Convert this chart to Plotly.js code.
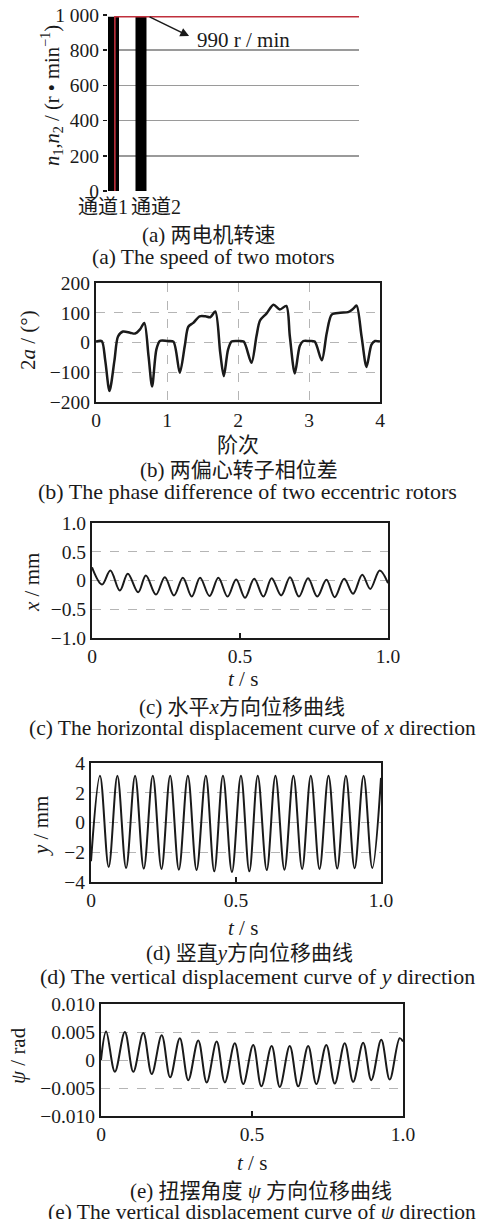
<!DOCTYPE html>
<html>
<head>
<meta charset="utf-8">
<script src="https://cdn.plot.ly/plotly-3.0.1.min.js"></script>
<style>html,body{margin:0;padding:0;background:#fff;}#chart{width:488px;height:1219px;}</style>
</head>
<body>
<div id="chart"></div>
<script>
// ---------- (a) motor speeds ----------
const channels = ['通道1', '通道2'];
const channelSpeed = [990, 990];
const speedTraceX = [0.05, 0.05, 9.2];
const speedTraceN = [0, 990, 990];
const speedTicks = [0, 200, 400, 600, 800, 1000];
const speedTickText = ['0', '200', '400', '600', '800', '1 000'];

// ---------- (b) phase difference ----------
const phaseOrder = [0, 0.08, 0.13, 0.19, 0.26, 0.31, 0.38, 0.48, 0.55, 0.62, 0.68, 0.74, 0.79, 0.85, 0.90, 1.0, 1.09, 1.18, 1.25, 1.30, 1.37, 1.46, 1.54, 1.61, 1.68, 1.75, 1.80, 1.86, 1.91, 2.0, 2.08, 2.19, 2.26, 2.31, 2.40, 2.50, 2.59, 2.68, 2.73, 2.80, 2.87, 2.92, 3.0, 3.08, 3.18, 3.25, 3.32, 3.44, 3.55, 3.62, 3.67, 3.74, 3.81, 3.88, 3.93, 4.0];
const phaseDiff = [3, 5, -60, -163, -60, 20, 37, 33, 30, 44, 66, -46, -148, -24, 5, 5, 3, -102, -12, 53, 66, 88, 88, 85, 104, -35, -113, -24, 3, 5, 3, -68, 21, 74, 97, 127, 111, 123, 21, -104, -12, 5, 5, 3, -60, 32, 94, 100, 102, 113, 124, 21, -82, -7, 5, 3];
const phaseXTicks = [0, 1, 2, 3, 4];
const phaseYTicks = [-200, -100, 0, 100, 200];
const phaseYText = ['−200', '−100', '0', '100', '200'];

// ---------- (c) horizontal displacement x ----------
const tX = [0, 0.034, 0.062, 0.094, 0.121, 0.156, 0.182, 0.216, 0.246, 0.277, 0.307, 0.337, 0.365, 0.397, 0.427, 0.458, 0.487, 0.517, 0.548, 0.579, 0.607, 0.639, 0.669, 0.699, 0.730, 0.761, 0.792, 0.820, 0.852, 0.882, 0.913, 0.940, 0.972, 1.0];
const dispX = [0.23, -0.07, 0.175, -0.175, 0.117, -0.205, 0.088, -0.245, 0.058, -0.26, 0.05, -0.28, 0.05, -0.27, 0.047, -0.28, 0.018, -0.3, 0.03, -0.28, 0.04, -0.26, 0.058, -0.28, 0.04, -0.28, 0.012, -0.29, 0.03, -0.23, 0.1, -0.146, 0.175, -0.047];
const xYTicks = [-1, -0.5, 0, 0.5, 1];
const xYText = ['−1.0', '−0.5', '0', '0.5', '1.0'];

// ---------- (d) vertical displacement y ----------
const tY = [0, 0.031, 0.061, 0.091, 0.121, 0.152, 0.182, 0.213, 0.243, 0.273, 0.303, 0.334, 0.364, 0.396, 0.425, 0.455, 0.486, 0.517, 0.546, 0.575, 0.606, 0.636, 0.667, 0.698, 0.728, 0.758, 0.788, 0.819, 0.849, 0.879, 0.909, 0.940, 0.970, 1.0];
const dispY = [-2.6, 3.15, -2.99, 3.15, -3.06, 3.15, -3.1, 3.15, -3.12, 3.15, -3.17, 3.15, -3.2, 3.15, -3.28, 3.15, -3.33, 3.15, -3.28, 3.15, -3.2, 3.15, -3.17, 3.15, -3.12, 3.15, -3.12, 3.15, -3.1, 3.15, -3.08, 3.15, -3.06, 3.0];
const yYTicks = [-4, -2, 0, 2, 4];
const yYText = ['−4', '−2', '0', '2', '4'];

// ---------- (e) torsional angle psi ----------
const tPsi = [0, 0.017, 0.046, 0.079, 0.107, 0.140, 0.168, 0.201, 0.229, 0.261, 0.289, 0.322, 0.350, 0.383, 0.410, 0.443, 0.471, 0.504, 0.531, 0.565, 0.592, 0.625, 0.653, 0.686, 0.713, 0.746, 0.774, 0.807, 0.835, 0.868, 0.895, 0.928, 0.956, 0.989, 1.0];
const dispPsi = [0, 0.0051, -0.0021, 0.005, -0.0021, 0.0048, -0.0025, 0.0044, -0.0031, 0.0039, -0.0036, 0.0035, -0.004, 0.0033, -0.004, 0.003, -0.0043, 0.0027, -0.0047, 0.0025, -0.0048, 0.0025, -0.0047, 0.0025, -0.0043, 0.0027, -0.0042, 0.003, -0.0039, 0.0031, -0.0036, 0.0036, -0.0035, 0.0039, 0.0033];
const psiYTicks = [-0.01, -0.005, 0, 0.005, 0.01];
const psiYText = ['−0.010', '−0.005', '0', '0.005', '0.010'];

const timeTicks = [0, 0.5, 1];
const timeText = ['0', '0.5', '1.0'];

// ---------- layout helpers ----------
const W = 488, H = 1219;
const FONT = 'Liberation Serif, "Noto Sans CJK SC", serif';
const INK = '#1a1a1a';
const px = v => v / W;
const py = v => 1 - v / H;

const traces = [
  {type: 'bar', x: [0, 1], y: channelSpeed, width: 0.4, marker: {color: '#000'}, xaxis: 'x', yaxis: 'y', hoverinfo: 'skip'},
  {type: 'scatter', mode: 'lines', x: speedTraceX, y: speedTraceN, line: {color: '#c0303c', width: 1.6}, xaxis: 'x', yaxis: 'y'},
  {type: 'scatter', mode: 'lines', x: phaseOrder, y: phaseDiff, line: {color: INK, width: 2.5, shape: 'spline', smoothing: 0.8}, xaxis: 'x2', yaxis: 'y2'},
  {type: 'scatter', mode: 'lines', x: tX, y: dispX, line: {color: INK, width: 2, shape: 'spline', smoothing: 1}, xaxis: 'x3', yaxis: 'y3'},
  {type: 'scatter', mode: 'lines', x: tY, y: dispY, line: {color: INK, width: 2, shape: 'spline', smoothing: 1}, xaxis: 'x4', yaxis: 'y4'},
  {type: 'scatter', mode: 'lines', x: tPsi, y: dispPsi, line: {color: INK, width: 2, shape: 'spline', smoothing: 1}, xaxis: 'x5', yaxis: 'y5'}
];

const tickFont = {family: FONT, size: 19.5, color: INK};
function frameX(dom, anchor, range, tv, tt, extra) {
  return Object.assign({domain: dom, anchor: anchor, range: range, tickvals: tv, ticktext: tt,
    showline: true, mirror: true, linecolor: INK, linewidth: 2, zeroline: false,
    showgrid: false, ticks: 'inside', ticklen: 5, tickwidth: 1.5, tickcolor: INK,
    tickfont: tickFont, fixedrange: true}, extra || {});
}
function frameY(dom, anchor, range, tv, tt, extra) {
  return Object.assign({domain: dom, anchor: anchor, range: range, tickvals: tv, ticktext: tt,
    showline: true, mirror: true, linecolor: INK, linewidth: 2, zeroline: false,
    showgrid: true, gridcolor: '#b5b5b5', gridwidth: 1, griddash: 'dash', ticks: '',
    tickfont: tickFont, fixedrange: true}, extra || {});
}

const layout = {
  width: W, height: H,
  margin: {l: 0, r: 0, t: 0, b: 0},
  paper_bgcolor: '#fff', plot_bgcolor: '#fff',
  showlegend: false,
  font: {family: FONT, size: 19, color: INK},
  xaxis: {domain: [px(108), px(359)], anchor: 'y', range: [-0.2, 8.93],
    showticklabels: false, showgrid: false, zeroline: false,
    showline: false, ticks: '', fixedrange: true},
  yaxis: {domain: [py(191), py(15)], anchor: 'x', range: [0, 1000],
    tickvals: speedTicks, ticktext: speedTickText, showgrid: true, gridcolor: '#9a9a9a', gridwidth: 1.5,
    zeroline: false, showline: false, ticks: 'outside', ticklen: 4, tickwidth: 1.5, tickcolor: INK,
    tickfont: tickFont, fixedrange: true},
  xaxis2: frameX([px(96), px(380)], 'y2', [0, 4], phaseXTicks, phaseXTicks.map(String),
    {showgrid: true, gridcolor: '#b5b5b5', gridwidth: 1, griddash: 'dash', ticks: ''}),
  yaxis2: frameY([py(402), py(283)], 'x2', [-200, 200], phaseYTicks, phaseYText),
  xaxis3: frameX([px(92), px(388)], 'y3', [0, 1], timeTicks, timeText),
  yaxis3: frameY([py(638), py(523)], 'x3', [-1, 1], xYTicks, xYText),
  xaxis4: frameX([px(91), px(381)], 'y4', [0, 1], timeTicks, timeText),
  yaxis4: frameY([py(882), py(763)], 'x4', [-4, 4], yYTicks, yYText),
  xaxis5: frameX([px(101), px(403)], 'y5', [0, 1], timeTicks, timeText),
  yaxis5: frameY([py(1116), py(1004)], 'x5', [-0.01, 0.01], psiYTicks, psiYText),
  annotations: []
};

function label(text, x, y, size, opts) {
  layout.annotations.push(Object.assign({text: text, x: px(x), y: py(y), xref: 'paper', yref: 'paper',
    showarrow: false, xanchor: 'center', yanchor: 'middle', font: {family: FONT, size: size, color: INK}}, opts || {}));
}

// category labels of (a), placed under the bars (pixel positions)
const channelLabelPx = [103, 156];
channels.forEach((c, i) => label(c, channelLabelPx[i], 207, 20));

// arrow in (a)
layout.annotations.push({xref: 'x', yref: 'y', x: 2.75, y: 880, ax: -41, ay: -20, text: '',
  showarrow: true, arrowhead: 2, arrowsize: 1.1, arrowwidth: 1.6, arrowcolor: INK});
label('990 r / min', 243, 40, 21);

// axis titles
label('<i>n</i><sub>1</sub>,<i>n</i><sub>2</sub> / (r • min<sup>−1</sup>)', 52, 96, 20.5, {textangle: -90});
label('2<i>a</i> / (°)', 28, 340, 21, {textangle: -90});
label('<i>x</i> / mm', 32, 583, 21, {textangle: -90});
label('<i>y</i> / mm', 41, 826, 21, {textangle: -90});
label('<i>ψ</i> / rad', 18, 1056, 21, {textangle: -90});
label('阶次', 238, 445, 21);
label('<i>t</i> / s', 243, 679, 21);
label('<i>t</i> / s', 243, 928, 21);
label('<i>t</i> / s', 252, 1163, 21);

// captions
label('(a) 两电机转速', 209, 235, 21);
label('(a) The speed of two motors', 213, 257, 21.5);
label('(b) 两偏心转子相位差', 239, 470, 21);
label('(b) The phase difference of two eccentric rotors', 247, 492, 22);
label('(c) 水平<i>x</i>方向位移曲线', 242, 707, 21);
label('(c) The horizontal displacement curve of <i>x</i> direction', 252, 728, 21.5);
label('(d) 竖直<i>y</i>方向位移曲线', 250, 953, 21);
label('(d) The vertical displacement curve of <i>y</i> direction', 257, 976, 22);
label('(e) 扭摆角度 <i>ψ</i> 方向位移曲线', 261, 1191, 21);
label('(e) The vertical displacement curve of <i>ψ</i> direction', 262, 1212, 21.5);

Plotly.newPlot('chart', traces, layout, {staticPlot: true, displayModeBar: false});
</script>
</body>
</html>
